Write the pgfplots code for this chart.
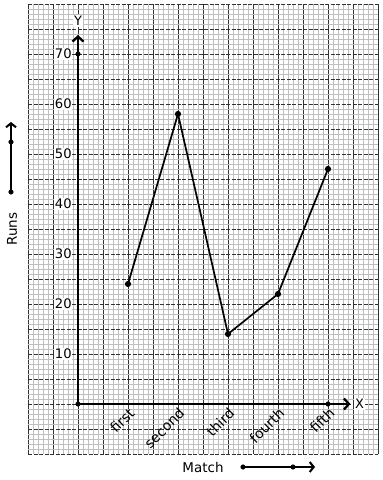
\documentclass[border=0pt]{standalone}
\usepackage{fontspec}
\setmainfont{DejaVu Sans}
\usepackage{pgfplots}
\pgfplotsset{compat=1.18}
\usetikzlibrary{arrows.meta}
\tikzset{
  ylabnode/.style={font=\fontsize{13.2}{15}\selectfont, fill=white, inner sep=0.6bp, anchor=east},
  xlabnode/.style={font=\fontsize{14}{16}\selectfont, inner sep=0bp, rotate=45, anchor=north east},
}
\begin{document}
\begin{tikzpicture}
\begin{axis}[
  set layers,
  x=50bp, y=5bp,
  xmin=-1, xmax=6, ymin=-10, ymax=80,
  clip=false,
  axis line style={draw=none},
  tick style={draw=none},
  xtick={-1,-0.5,...,6}, ytick={-10,-5,...,80},
  xticklabels={}, yticklabels={},
  minor x tick num=4, minor y tick num=4,
  grid=both,
  minor grid style={draw=black!25, line width=0.7bp},
  major x grid style={draw=black!80, line width=0.9bp},
  major y grid style={draw=black!80, line width=0.9bp, dash pattern=on 4bp off 1.5bp},
]
% bounding box matching reference proportions
\path (axis cs:-1.56,-15.2) rectangle (axis cs:6.1,80.8);
% axes
\draw[line width=2.3bp, -{Straight Barb[length=5bp,width=11bp]}] (axis cs:0,0) -- (axis cs:0,73.8);
\draw[line width=2.3bp, -{Straight Barb[length=5bp,width=11bp]}] (axis cs:0,0) -- (axis cs:5.45,0);
\node[font=\fontsize{13}{15}\selectfont, fill=white, inner sep=1bp] at (axis cs:0,76.6) {Y};
\node[font=\fontsize{13}{15}\selectfont, fill=white, inner sep=1bp, anchor=west] at (axis cs:5.52,0) {X};
% y tick labels
\node[ylabnode] at (axis cs:-0.11,10) {10};
\node[ylabnode] at (axis cs:-0.11,20) {20};
\node[ylabnode] at (axis cs:-0.11,30) {30};
\node[ylabnode] at (axis cs:-0.11,40) {40};
\node[ylabnode] at (axis cs:-0.11,50) {50};
\node[ylabnode] at (axis cs:-0.11,60) {60};
\node[ylabnode] at (axis cs:-0.11,70) {70};
% x tick labels
\node[xlabnode] at (axis cs:1.0,-0.5) {first};
\node[xlabnode] at (axis cs:2.0,-0.5) {second};
\node[xlabnode] at (axis cs:3.0,-0.5) {third};
\node[xlabnode] at (axis cs:4.0,-0.5) {fourth};
\node[xlabnode] at (axis cs:5.0,-0.5) {fifth};
% axis titles and direction arrows
\node[font=\fontsize{13.5}{15}\selectfont, rotate=90] at (axis cs:-1.32,35.0) {Runs};
\draw[line width=2bp, -{Straight Barb[length=4bp,width=10bp]}] (axis cs:-1.34,42.4) -- (axis cs:-1.34,56.4);
\node[font=\fontsize{13.5}{15}\selectfont] at (axis cs:2.5,-12.6) {Match};
\draw[line width=2bp, -{Straight Barb[length=4bp,width=10bp]}] (axis cs:3.3,-12.6) -- (axis cs:4.74,-12.6);
% decorative dots
\addplot[only marks, mark=*, mark size=2.3bp, black] coordinates {(0,0) (0,70) (5,0) (-1.34,42.4) (-1.34,52.4) (3.3,-12.6) (4.3,-12.6)};
% data
\addplot[black, line width=1.7bp, mark=*, mark size=2.2bp] coordinates {
  (1,24) (2,58) (3,14) (4,22) (5,47)
};
\end{axis}
\end{tikzpicture}
\end{document}
